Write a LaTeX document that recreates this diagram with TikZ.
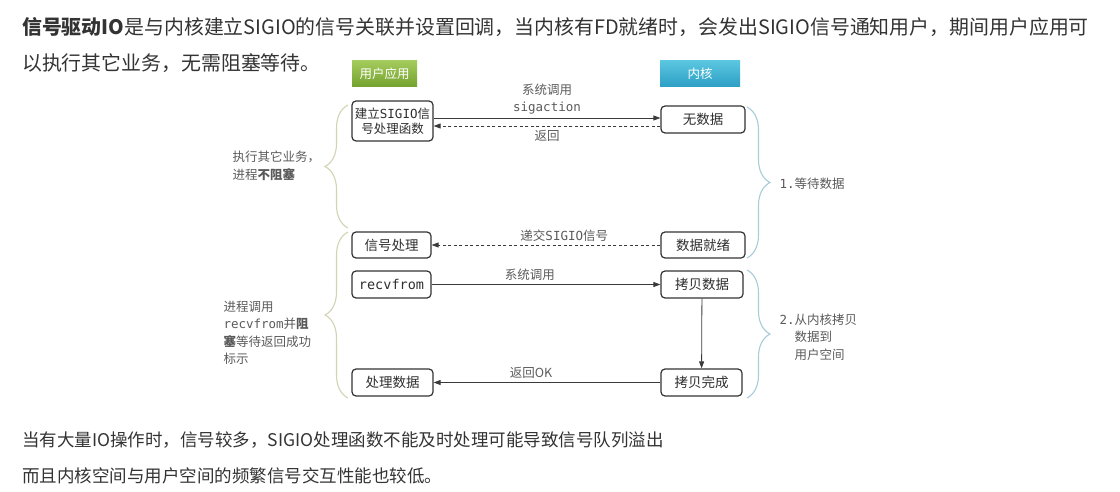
\documentclass[tikz,border=0pt]{standalone}
\usepackage{fontspec}
\setmainfont{Noto Sans CJK SC}
\newfontfamily\mono{DejaVu Sans Mono}
\usetikzlibrary{arrows.meta,decorations.pathreplacing}

\definecolor{bodytext}{HTML}{333333}
\definecolor{labelgrey}{HTML}{5A5A5A}
\definecolor{boxtext}{HTML}{2E2E2E}
\definecolor{boxline}{HTML}{333333}
\definecolor{arrowline}{HTML}{3A3A3A}
\definecolor{greentop}{HTML}{A3CB5C}
\definecolor{greenbot}{HTML}{74A12D}
\definecolor{bluetop}{HTML}{5AC6E0}
\definecolor{bluebot}{HTML}{2C9FC4}
\definecolor{leftbrace}{HTML}{D3D3B4}
\definecolor{rightbrace}{HTML}{A6CCD8}

\newcommand{\bodyfont}{\fontsize{19.9}{24}\selectfont}
\newcommand{\notefont}{\fontsize{17.5}{21}\selectfont}
\newcommand{\diafont}{\fontsize{12.5}{17.5}\selectfont}
\newcommand{\stepfont}{\fontsize{13.5}{16}\selectfont}

\begin{document}
\begin{tikzpicture}[x=1pt, y=-1pt, >={Triangle[length=7pt,width=5pt]},
  every node/.style={font=\diafont, text=labelgrey},
  stepbox/.style={draw=boxline, line width=1.2pt, rounded corners=4pt, fill=white, text=boxtext, font=\stepfont, inner sep=2pt, minimum height=27pt},
  headbox/.style={minimum height=26pt, text=white, inner sep=2pt},
  call/.style={->, draw=arrowline, line width=0.8pt},
  reply/.style={->, draw=arrowline, line width=0.8pt, dash pattern=on 3pt off 2.5pt},
  phase/.style={decorate, decoration={brace, amplitude=23pt}, line width=1.1pt}]
	\useasboundingbox (0,0) rectangle (1120,492);
	% text above the diagram
	\node[anchor=west, inner sep=0, font=\bodyfont, text=bodytext] (intro1) at (22,27) {\textbf{信号驱动IO}是与内核建立SIGIO的信号关联并设置回调，当内核有FD就绪时，会发出SIGIO信号通知用户，期间用户应用可};
	\node[anchor=west, inner sep=0, font=\bodyfont, text=bodytext] (intro2) at (22,63) {以执行其它业务，无需阻塞等待。};
	% column heads
	\node[headbox, minimum width=65pt, top color=greentop, bottom color=greenbot] (user) at (384.5,74) {用户应用};
	\node[headbox, minimum width=80pt, top color=bluetop, bottom color=bluebot] (kernel) at (700,74) {内核};
	% steps
	\node[stepbox, minimum width=81pt, minimum height=40pt, align=center, inner sep=1pt, font=\fontsize{12.5}{15}\selectfont] (setup) at (392.5,121) {建立{\mono SIGIO}信\\号处理函数};
	\node[stepbox, minimum width=84pt] (nodata) at (703,119.5) {无数据};
	\node[stepbox, minimum width=79pt, minimum height=26pt] (sighdl) at (391.5,245) {信号处理};
	\node[stepbox, minimum width=84pt, minimum height=26pt] (ready) at (703,245) {数据就绪};
	\node[stepbox, minimum width=79pt] (recv) at (391.5,284.5) {\mono recvfrom};
	\node[stepbox, minimum width=82pt] (copy) at (702,284.5) {拷贝数据};
	\node[stepbox, minimum width=81pt] (handle) at (392.5,382.5) {处理数据};
	\node[stepbox, minimum width=81pt] (done) at (701.5,382.5) {拷贝完成};
	% connectors
	\draw[call] (setup.east |- 0,118) -- (nodata.west |- 0,118) node[midway, above, align=center, inner sep=3pt] {系统调用\\{\mono sigaction}};
	\draw[reply] (nodata.west |- 0,126) -- (setup.east |- 0,126) node[midway, below] {返回};
	\draw[reply] (ready) -- (sighdl) node[pos=0.42, above] {递交{\mono SIGIO}信号};
	\draw[call] (recv) -- (copy) node[pos=0.43, above] {系统调用};
	\draw[call] (copy) -- (done);
	\draw[call] (done) -- (handle) node[pos=0.57, above] {返回OK};
	% phases
	\draw[phase, leftbrace] (348,228) -- (348,105);
	\draw[phase, leftbrace] (348,398) -- (348,232);
	\draw[phase, rightbrace] (747,107) -- (747,258);
	\draw[phase, rightbrace] (747,270) -- (747,398);
	\node[anchor=west, align=left] (wait) at (229,166) {执行其它业务，\\进程\textbf{不阻塞}};
	\node[anchor=west, align=left] (block) at (220,333) {进程调用\\{\mono recvfrom}并\textbf{阻}\\\textbf{塞}等待返回成功\\标示};
	\node[anchor=west] (phase1) at (776,184) {{\mono 1.}等待数据};
	\node[anchor=west, align=left] (phase2) at (776,337) {{\mono 2.}从内核拷贝\\\hspace*{15pt}数据到\\\hspace*{15pt}用户空间};
	% text below the diagram
	\node[anchor=west, inner sep=0, font=\notefont, text=bodytext] (note1) at (22,440) {当有大量IO操作时，信号较多，SIGIO处理函数不能及时处理可能导致信号队列溢出};
	\node[anchor=west, inner sep=0, font=\notefont, text=bodytext] (note2) at (22,476) {而且内核空间与用户空间的频繁信号交互性能也较低。};
\end{tikzpicture}
\end{document}
